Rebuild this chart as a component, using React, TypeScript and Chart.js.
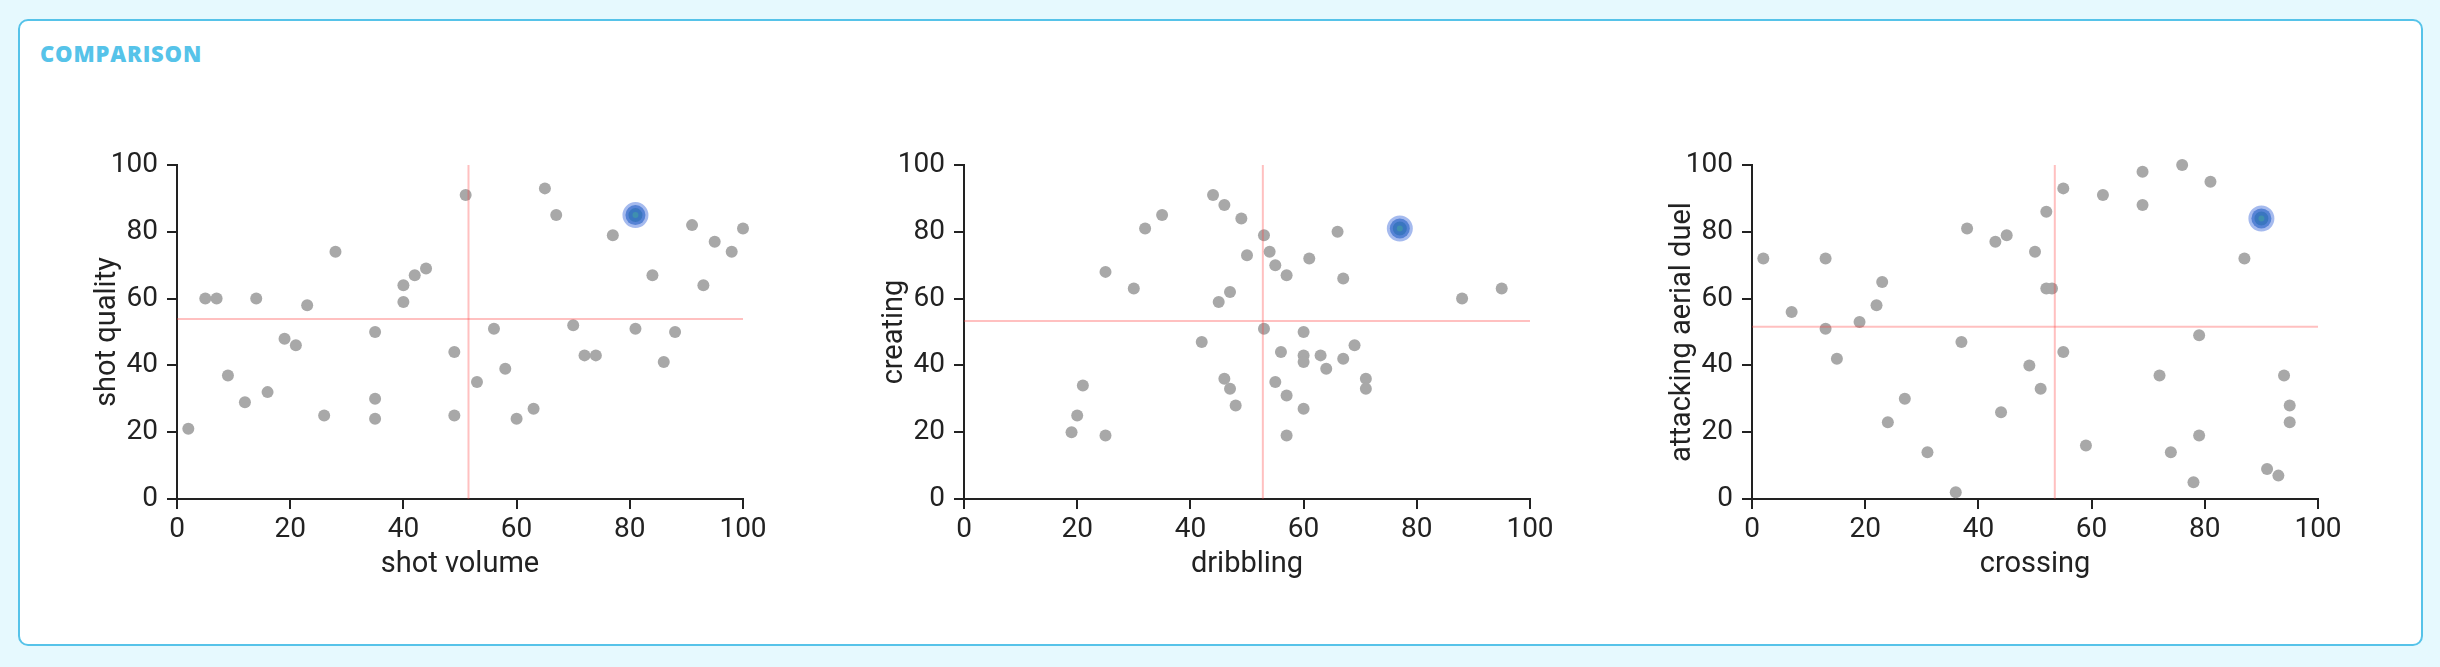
import React, { useEffect, useRef } from "react";
import { Chart, registerables } from "chart.js";

Chart.register(...registerables);

// ---------- data ----------
const axisTicks = [0, 20, 40, 60, 80, 100];

const shotVolume = [2, 5, 7, 9, 12, 14, 16, 19, 21, 23, 26, 28, 35, 35, 35, 40, 40, 42, 44, 49, 49, 51, 53, 56, 58, 60, 63, 65, 67, 70, 72, 74, 77, 81, 84, 86, 88, 91, 93, 95, 98, 100];
const shotQuality = [21, 60, 60, 37, 29, 60, 32, 48, 46, 58, 25, 74, 50, 30, 24, 64, 59, 67, 69, 44, 25, 91, 35, 51, 39, 24, 27, 93, 85, 52, 43, 43, 79, 51, 67, 41, 50, 82, 64, 77, 74, 81];
const highlight1 = { x: 81, y: 85 };
const mean1 = { x: 51.5, y: 53.9 };

const dribbling = [19, 20, 21, 25, 25, 30, 32, 35, 42, 44, 45, 46, 46, 47, 47, 48, 49, 50, 53, 53, 54, 55, 55, 56, 57, 57, 57, 60, 60, 60, 60, 61, 63, 64, 66, 67, 67, 69, 71, 71, 88, 95];
const creating = [20, 25, 34, 19, 68, 63, 81, 85, 47, 91, 59, 88, 36, 62, 33, 28, 84, 73, 79, 51, 74, 70, 35, 44, 67, 31, 19, 50, 43, 41, 27, 72, 43, 39, 80, 66, 42, 46, 36, 33, 60, 63];
const highlight2 = { x: 77, y: 81 };
const mean2 = { x: 52.8, y: 53.3 };

const crossing = [2, 7, 13, 13, 15, 19, 22, 23, 24, 27, 31, 36, 37, 38, 43, 44, 45, 49, 50, 51, 52, 52, 53, 55, 55, 59, 62, 69, 69, 72, 74, 76, 78, 79, 79, 81, 87, 91, 93, 94, 95, 95];
const aerialDuel = [72, 56, 72, 51, 42, 53, 58, 65, 23, 30, 14, 2, 47, 81, 77, 26, 79, 40, 74, 33, 86, 63, 63, 93, 44, 16, 91, 98, 88, 37, 14, 100, 5, 49, 19, 95, 72, 9, 7, 37, 28, 23];
const highlight3 = { x: 90, y: 84 };
const mean3 = { x: 53.5, y: 51.6 };

const xTitles = ["shot volume", "dribbling", "crossing"];
const yTitles = ["shot quality", "creating", "attacking aerial duel"];

// ---------- layout / style ----------
const PAGE_BG = "#e6f9fe";
const ACCENT = "#56c3e9";
const AXIS = "#222222";
const FONT = "Roboto, 'Noto Sans', sans-serif";

const PLOT_LEFTS = [177, 964, 1752];
const PLOT_W = 566;
const PLOT_TOP = 165;
const PLOT_H = 334;

const Y_AXIS_W = 120;
const X_AXIS_H = 83;
const PAD_TOP = 45;
const PAD_RIGHT = 32;
const PAD_BOTTOM = 18;

type Pt = { x: number; y: number };

interface PanelProps {
  xs: number[];
  ys: number[];
  highlight: Pt;
  mean: Pt;
  xTitle: string;
  yTitle: string;
  plotLeft: number;
}

function ScatterPanel({ xs, ys, highlight, mean, xTitle, yTitle, plotLeft }: PanelProps) {
  const ref = useRef<HTMLCanvasElement | null>(null);
  const width = Y_AXIS_W + PLOT_W + PAD_RIGHT;
  const height = PAD_TOP + PLOT_H + X_AXIS_H + PAD_BOTTOM;

  useEffect(() => {
    if (!ref.current) return;
    const pts = xs.map((x, i) => ({ x, y: ys[i] }));
    const tickFont = { family: FONT, size: 28 };
    const commonScale = (title: string, isY: boolean) => ({
      type: "linear" as const,
      min: 0,
      max: 100,
      afterBuildTicks: (scale: any) => {
        scale.ticks = axisTicks.map((v) => ({ value: v }));
      },
      afterFit: (scale: any) => {
        if (isY) scale.width = Y_AXIS_W;
        else scale.height = X_AXIS_H;
      },
      grid: {
        display: true,
        drawOnChartArea: false,
        drawTicks: true,
        tickLength: 10,
        color: AXIS,
        lineWidth: 2,
      },
      border: { display: true, color: AXIS, width: 2 },
      ticks: {
        color: AXIS,
        font: tickFont,
        padding: isY ? 9 : 4,
        maxRotation: 0,
        autoSkip: false,
      },
      title: {
        display: true,
        text: title,
        color: AXIS,
        font: { family: FONT, size: 29 },
        padding: isY ? { top: 33, bottom: 0 } : { top: 0, bottom: 0 },
      },
    });

    const chart = new Chart(ref.current, {
      type: "scatter",
      data: {
        datasets: [
          {
            label: "players",
            data: pts,
            pointRadius: 6,
            pointHoverRadius: 6,
            pointBackgroundColor: "#a8a8a8",
            pointBorderWidth: 0,
            borderWidth: 0,
            order: 4,
            clip: false,
          } as any,
          {
            label: "mean x",
            type: "line",
            data: [
              { x: mean.x, y: 0 },
              { x: mean.x, y: 100 },
            ],
            showLine: true,
            borderColor: "rgba(255, 60, 60, 0.32)",
            borderWidth: 2,
            pointRadius: 0,
            fill: false,
            order: 3,
          } as any,
          {
            label: "mean y",
            type: "line",
            data: [
              { x: 0, y: mean.y },
              { x: 100, y: mean.y },
            ],
            showLine: true,
            borderColor: "rgba(255, 60, 60, 0.32)",
            borderWidth: 2,
            pointRadius: 0,
            fill: false,
            order: 3,
          } as any,
          {
            label: "selected",
            data: [highlight],
            pointRadius: 10,
            pointHoverRadius: 10,
            pointBackgroundColor: "#3a76c0",
            pointBorderColor: "rgba(105, 140, 226, 0.6)",
            pointBorderWidth: 6,
            order: 2,
            clip: false,
          } as any,
          {
            label: "selected core",
            data: [highlight],
            pointRadius: 3,
            pointBackgroundColor: "#3f8fae",
            pointBorderWidth: 0,
            order: 1,
            clip: false,
          } as any,
        ],
      },
      options: {
        responsive: false,
        animation: false,
        devicePixelRatio: 1,
        layout: {
          autoPadding: false,
          padding: { left: 0, top: PAD_TOP, right: PAD_RIGHT, bottom: PAD_BOTTOM },
        },
        plugins: {
          legend: { display: false },
          tooltip: { enabled: false },
          title: { display: false },
        },
        events: [],
        scales: {
          x: { ...commonScale(xTitle, false), position: "bottom" },
          y: { ...commonScale(yTitle, true), position: "left" },
        },
      } as any,
    });
    return () => chart.destroy();
  }, [xs, ys, highlight, mean, xTitle, yTitle]);

  return (
    <canvas
      ref={ref}
      width={width}
      height={height}
      style={{
        position: "absolute",
        left: plotLeft - Y_AXIS_W,
        top: PLOT_TOP - PAD_TOP,
        width,
        height,
      }}
    />
  );
}

export default function App() {
  const panels = [
    { xs: shotVolume, ys: shotQuality, highlight: highlight1, mean: mean1 },
    { xs: dribbling, ys: creating, highlight: highlight2, mean: mean2 },
    { xs: crossing, ys: aerialDuel, highlight: highlight3, mean: mean3 },
  ];
  return (
    <div
      style={{
        position: "absolute",
        left: 0,
        top: 0,
        width: 2440,
        height: 667,
        background: PAGE_BG,
        overflow: "hidden",
      }}
    >
      <div
        style={{
          position: "absolute",
          left: 18,
          top: 19,
          width: 2405,
          height: 627,
          boxSizing: "border-box",
          border: `2px solid ${ACCENT}`,
          borderRadius: 10,
          background: "#ffffff",
        }}
      />
      <div
        style={{
          position: "absolute",
          left: 40,
          top: 42,
          fontFamily: "'Open Sans', Lato, sans-serif",
          fontWeight: 800,
          fontSize: 22,
          lineHeight: "22px",
          letterSpacing: 0.8,
          color: ACCENT,
        }}
      >
        COMPARISON
      </div>
      {panels.map((p, i) => (
        <ScatterPanel
          key={i}
          xs={p.xs}
          ys={p.ys}
          highlight={p.highlight}
          mean={p.mean}
          xTitle={xTitles[i]}
          yTitle={yTitles[i]}
          plotLeft={PLOT_LEFTS[i]}
        />
      ))}
    </div>
  );
}
